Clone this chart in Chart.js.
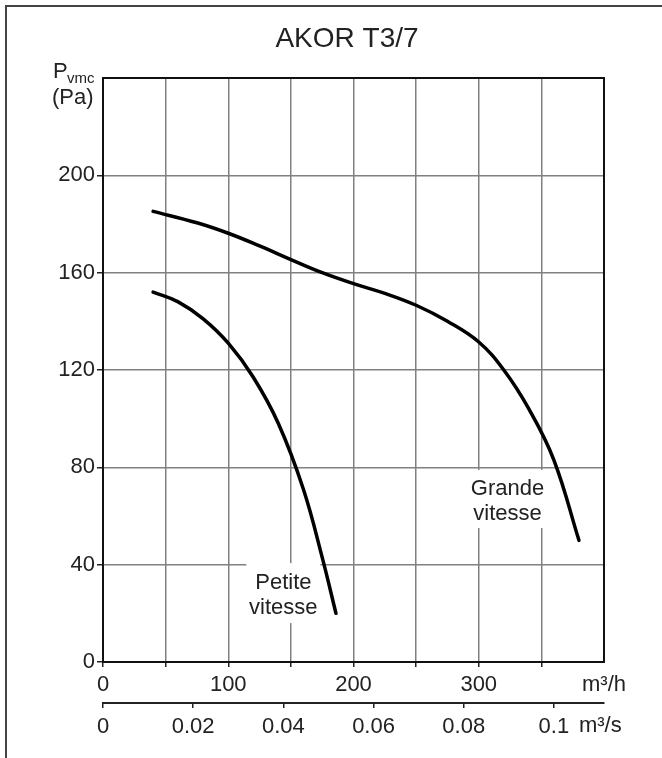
<!DOCTYPE html>
<html>
<head>
<meta charset="utf-8">
<script src="https://cdn.jsdelivr.net/npm/chart.js@4"></script>
<style>
html,body{margin:0;padding:0;background:#fff}
#wrap{position:relative;width:662px;height:758px}
</style>
</head>
<body>
<div id="wrap"><canvas id="c" width="662" height="758"></canvas></div>
<script>
// débit m3/h -> pression Pa
const grandeX=[40,75,100,125,150,175,200,225,250,275,300,320,340,360,380];
const grandeY=[185.2,180.5,176.2,171,165.4,160,155.5,151.5,146.6,140,131.5,120,104,83,50];
const petiteX=[40,60,80,100,120,140,160,175,186];
const petiteY=[152,148,141,131,117,98,71,43,20];
const xTicksLabelled=[0,100,200,300];
const x2Labels={0:'0',0.02:'0.02',0.04:'0.04',0.06:'0.06',0.08:'0.08',0.1:'0.1'};
const curveLabels=[{lines:['Petite','vitesse'],x:144,y:28.3,hw:37,hh:30},{lines:['Grande','vitesse'],x:323,y:67,hw:42,hh:29}];

const FONT='"Liberation Sans", Arial, sans-serif';
const pts=(xs,ys)=>xs.map((x,i)=>({x:x,y:ys[i]}));

const deco={
  id:'deco',
  beforeDraw(ch){
    const c=ch.ctx;
    c.save();
    c.fillStyle='#444';
    c.fillRect(5,5,2,753);
    c.fillRect(5,5,657,2);
    c.fillStyle='#222';
    c.font='28px '+FONT;c.textAlign='center';c.textBaseline='alphabetic';
    c.fillText('AKOR T3/7',347,47);
    const a=ch.chartArea;
    c.textAlign='left';
    c.font='22px '+FONT;c.fillText('P',a.left-50,a.top);
    c.font='15px '+FONT;c.fillText('vmc',a.left-36,a.top+5);
    c.font='22px '+FONT;c.fillText('(Pa)',a.left-51,a.top+26);
    const x2=ch.scales.x2;
    c.font='22px '+FONT;c.fillText('m\u00b3/s',x2.getPixelForValue(0.1)+25,x2.top+29);
    c.restore();
  },
  beforeDatasetsDraw(ch){
    const c=ch.ctx,a=ch.chartArea,sx=ch.scales.x,sy=ch.scales.y;
    c.save();
    curveLabels.forEach(l=>{
      const px=sx.getPixelForValue(l.x),py=sy.getPixelForValue(l.y);
      c.fillStyle='#fff';
      c.fillRect(px-l.hw,py-l.hh,l.hw*2,l.hh*2);
      c.fillStyle='#222';c.font='22px '+FONT;c.textAlign='center';c.textBaseline='alphabetic';
      c.fillText(l.lines[0],px,py-4);
      c.fillText(l.lines[1],px,py+21);
    });
    c.strokeStyle='#111';c.lineWidth=2;
    c.strokeRect(a.left,a.top,a.right-a.left,a.bottom-a.top);
    c.restore();
  }
};

new Chart(document.getElementById('c'),{
  type:'line',
  data:{datasets:[
    {label:'Grande vitesse',data:pts(grandeX,grandeY),borderColor:'#000',borderWidth:3.5,pointRadius:0,tension:0.4,borderCapStyle:'round'},
    {label:'Petite vitesse',data:pts(petiteX,petiteY),borderColor:'#000',borderWidth:3.5,pointRadius:0,tension:0.4,borderCapStyle:'round'}
  ]},
  options:{
    responsive:false,animation:false,
    layout:{padding:{top:78,right:58,left:0,bottom:0}},
    plugins:{legend:{display:false},title:{display:false},tooltip:{enabled:false}},
    scales:{
      x:{type:'linear',position:'bottom',min:0,max:400,
        afterFit:s=>{s.height=41;},
        border:{display:false},
        grid:{color:ctx=>(ctx.tick&&(ctx.tick.value===0||ctx.tick.value===400))?'rgba(0,0,0,0)':'#808080',
          tickColor:ctx=>(ctx.tick&&ctx.tick.value===400)?'rgba(0,0,0,0)':'#222',lineWidth:1.5,tickLength:5},
        ticks:{stepSize:50,padding:5,color:'#222',font:{family:FONT,size:22},maxRotation:0,autoSkip:false,
          callback:v=>v===400?'m\u00b3/h':(xTicksLabelled.includes(v)?String(v):'')}
      },
      x2:{type:'linear',position:'bottom',min:0,max:400/3600,
        afterFit:s=>{s.height=55;},
        border:{display:true,color:'#222',width:2},
        grid:{drawOnChartArea:false,drawTicks:true,tickLength:5,tickColor:'#222',lineWidth:1.5},
        ticks:{stepSize:0.02,includeBounds:false,padding:6,color:'#222',font:{family:FONT,size:22},maxRotation:0,autoSkip:false,
          callback:v=>{const k=Math.round(v*100)/100;return x2Labels[k]!==undefined?x2Labels[k]:'';}}
      },
      y:{type:'linear',min:0,max:240,
        afterFit:s=>{s.width=103;},
        border:{display:false},
        grid:{color:ctx=>(ctx.tick&&(ctx.tick.value===0||ctx.tick.value===240))?'rgba(0,0,0,0)':'#808080',
          tickColor:ctx=>(ctx.tick&&ctx.tick.value===240)?'rgba(0,0,0,0)':'#222',lineWidth:1.5,tickLength:6},
        ticks:{stepSize:40,padding:2,color:'#222',font:{family:FONT,size:22},
          callback:v=>v===240?'':String(v)}
      }
    }
  },
  plugins:[deco]
});
</script>
</body>
</html>
